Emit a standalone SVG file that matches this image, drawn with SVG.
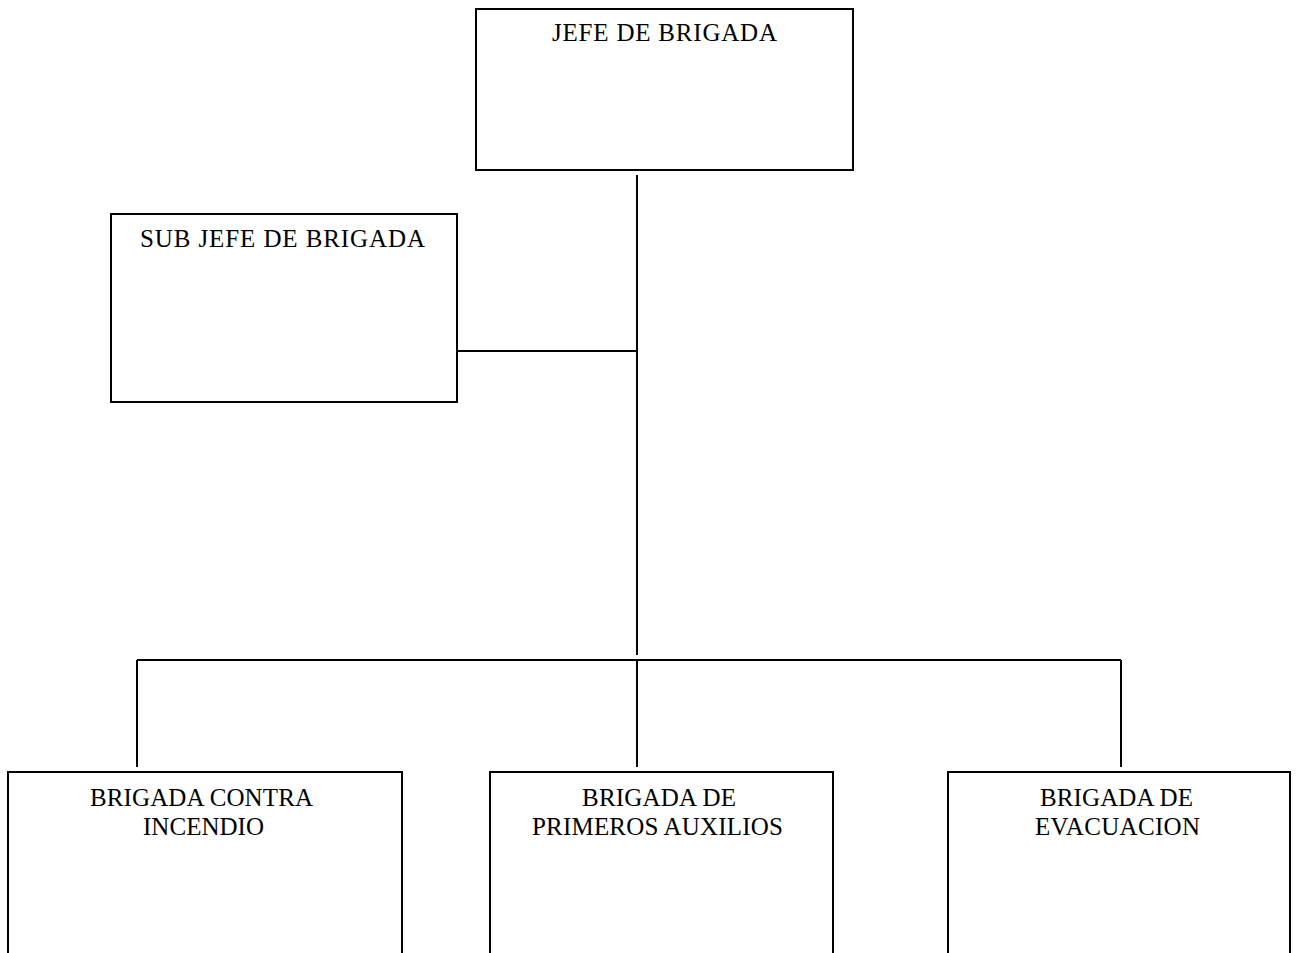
<svg xmlns="http://www.w3.org/2000/svg" width="1300" height="953" viewBox="0 0 1300 953">
<style>
.box{fill:#fff;stroke:#000;stroke-width:2}
.ln{stroke:#000;stroke-width:2;fill:none}
text{font-family:"Liberation Serif","Times New Roman",serif;font-size:25px;fill:#000;text-anchor:middle}
</style>
<rect width="1300" height="953" fill="#fff"/>
<g id="connectors">
<line class="ln" x1="637" y1="175" x2="637" y2="655"/>
<line class="ln" x1="458" y1="351" x2="637" y2="351"/>
<line class="ln" x1="137" y1="660" x2="1121" y2="660"/>
<line class="ln" x1="137" y1="660" x2="137" y2="767"/>
<line class="ln" x1="637" y1="660" x2="637" y2="767"/>
<line class="ln" x1="1121" y1="660" x2="1121" y2="767"/>
</g>
<g id="jefe">
<rect class="box" x="476" y="9" width="377" height="161"/>
<text x="664.5" y="41" textLength="225" lengthAdjust="spacing">JEFE DE BRIGADA</text>
</g>
<g id="subjefe">
<rect class="box" x="111" y="214" width="346" height="188"/>
<text x="282.5" y="247" textLength="285" lengthAdjust="spacing">SUB JEFE DE BRIGADA</text>
</g>
<g id="incendio">
<rect class="box" x="8" y="772" width="394" height="200"/>
<text x="201.5" y="806" textLength="223" lengthAdjust="spacing">BRIGADA CONTRA</text>
<text x="203.5" y="835" textLength="121" lengthAdjust="spacing">INCENDIO</text>
</g>
<g id="auxilios">
<rect class="box" x="490" y="772" width="343" height="200"/>
<text x="659" y="806" textLength="154" lengthAdjust="spacing">BRIGADA DE</text>
<text x="657.5" y="835" textLength="251" lengthAdjust="spacing">PRIMEROS AUXILIOS</text>
</g>
<g id="evacuacion">
<rect class="box" x="948" y="772" width="342" height="200"/>
<text x="1116.5" y="806" textLength="153" lengthAdjust="spacing">BRIGADA DE</text>
<text x="1117.5" y="835" textLength="165" lengthAdjust="spacing">EVACUACION</text>
</g>
</svg>
